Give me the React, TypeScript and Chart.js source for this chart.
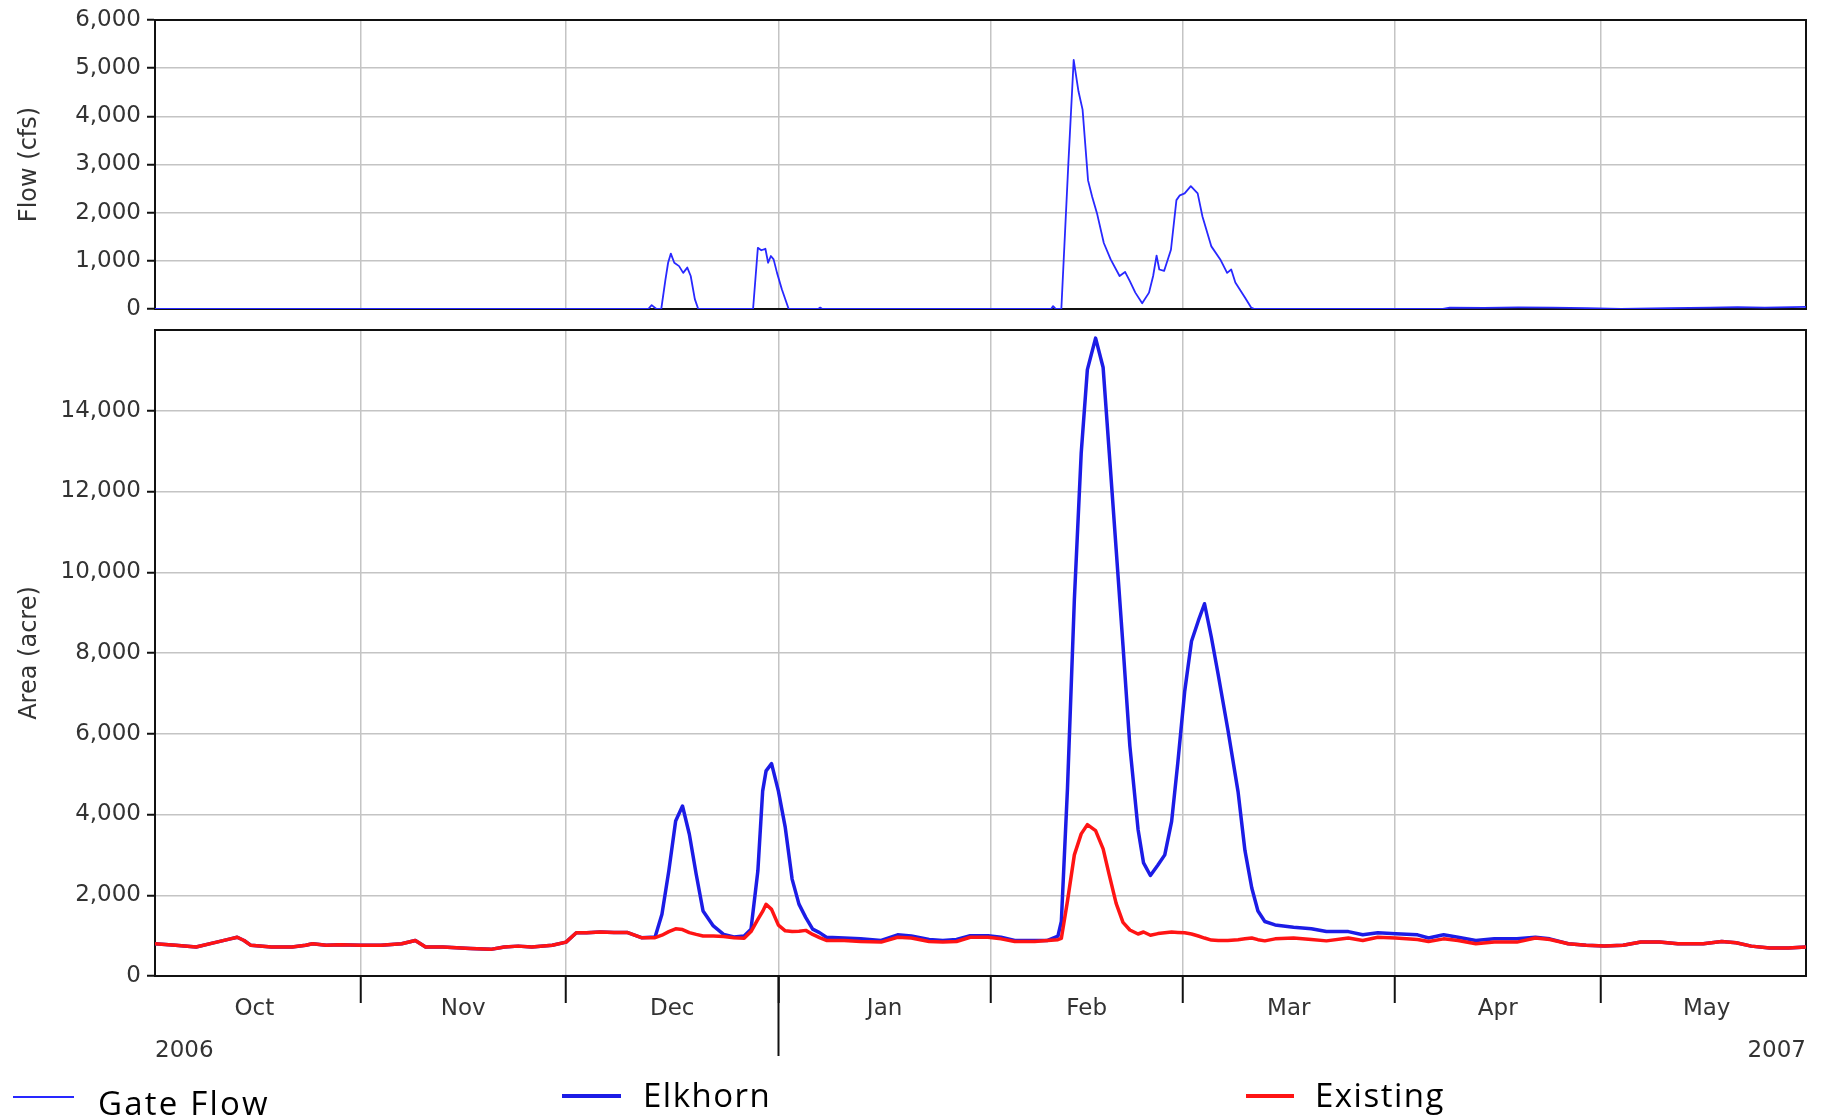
import React, { useEffect, useRef } from 'react';
import { Chart, registerables } from 'chart.js';

Chart.register(...registerables);

// ---------------- data ----------------
// x values are days counted from 1 Oct 2006 (day 0)
const seriesStart = Date.UTC(2006, 9, 1);
const axisFirstDay = 1; // 2 Oct 2006
const axisLastDay = 242; // 31 May 2007

const monthLabels = ['Oct', 'Nov', 'Dec', 'Jan', 'Feb', 'Mar', 'Apr', 'May'];
const monthYears = [2006, 2006, 2006, 2007, 2007, 2007, 2007, 2007, 2007];
const monthNumbers = [9, 10, 11, 0, 1, 2, 3, 4, 5];
const yearLabels = ['2006', '2007'];

const flowTicks = [0, 1000, 2000, 3000, 4000, 5000, 6000];
const areaTicks = [0, 2000, 4000, 6000, 8000, 10000, 12000, 14000];

const flowDays = [
  1, 73, 73.5, 74.2, 74.9, 75.5, 75.9, 76.3, 76.8, 77.5,
  78.1, 78.7, 79.2, 79.8, 80.3, 88.3, 89.0, 89.5, 90.1, 90.5,
  90.9, 91.3, 91.8, 92.5, 93.5, 97.8, 98.1, 98.4, 131.8, 132.1,
  132.5, 133.3, 134.3, 135.1, 135.8, 136.4, 137.2, 137.8, 138.5, 139.5,
  140.5, 141.8, 142.6, 143.3, 144.1, 145.1, 146.1, 146.7, 147.2, 147.6,
  148.3, 149.3, 150.1, 150.6, 151.3, 152.2, 153.2, 153.9, 155.2, 156.5,
  157.5, 158.1, 158.7, 160.1, 161, 161.5, 189, 190, 195, 200,
  205, 210, 215, 222, 228, 232, 236, 240, 242,
];
const gateFlow = [
  0, 0, 80, 0, 0, 600, 960, 1150, 960, 890,
  750, 860, 685, 205, 0, 0, 1270, 1220, 1250, 960,
  1100, 1030, 750, 410, 0, 0, 30, 0, 0, 60,
  0, 0, 2950, 5170, 4520, 4140, 2670, 2330, 1990, 1370,
  1030, 685, 770, 580, 340, 120, 340, 685, 1110, 820,
  790, 1230, 2260, 2360, 2400, 2550, 2400, 1920, 1300, 1030,
  750, 820, 550, 240, 30, 0, 0, 30, 25, 35,
  30, 20, 0, 20, 30, 40, 30, 40, 45,
];

const areaDays = [
  1, 4, 7, 10, 12, 13, 14, 15, 18, 21,
  23, 24, 26, 28, 31, 34, 37, 39, 40.5, 43,
  47, 50, 52, 54, 56, 59, 61, 62.5, 64, 66,
  68, 70, 72, 74, 75, 76, 77, 78, 79, 80,
  81, 82.5, 84, 85.5, 87, 88, 89, 89.7, 90.2, 91,
  92, 93, 94, 95, 96, 97, 98, 99, 101.6, 104,
  107, 109.4, 111.4, 114, 116, 118, 120, 122.6, 124.5, 126.5,
  129.4, 131.3, 132.8, 133.3, 134.2, 135.2, 136.2, 137.1, 138.3, 139.4,
  140.3, 141.3, 142.3, 143.3, 144.5, 145.3, 146.3, 147.4, 148.4, 149.4,
  150.3, 151.3, 152.3, 153.3, 154.2, 155.2, 156.2, 157.6, 159.1, 160.1,
  161.1, 162, 163, 164.5, 167.2, 169.8, 172, 175.2, 177.3, 179.5,
  182.1, 185.3, 186.9, 189.1, 191.2, 193.8, 196.5, 199.8, 202.5, 204.6,
  207.3, 209.9, 212.6, 215.3, 217.9, 220.6, 223.3, 227, 229.7, 231.8,
  234, 236.7, 239.4, 242,
];
const elkhornArea = [
  800, 760, 720, 840, 920, 960, 880, 760, 720, 720,
  760, 800, 760, 775, 760, 760, 800, 880, 720, 720,
  680, 660, 720, 740, 720, 760, 840, 1070, 1070, 1090,
  1075, 1075, 950, 965, 1530, 2600, 3840, 4210, 3510, 2520,
  1610, 1240, 1030, 965, 990, 1160, 2600, 4580, 5080, 5260,
  4580, 3680, 2400, 1780, 1445, 1160, 1075, 960, 940, 920,
  880, 1020, 990, 905, 880, 905, 1000, 1000, 960, 880,
  880, 880, 985, 1350, 4660, 9320, 12950, 15020, 15800, 15070,
  12950, 10570, 8180, 5700, 3630, 2800, 2490, 2750, 3000, 3830,
  5280, 7040, 8290, 8800, 9220, 8390, 7460, 6110, 4560, 3110,
  2180, 1610, 1350, 1265, 1210, 1170, 1100, 1100, 1020, 1070,
  1045, 1020, 940, 1020, 960, 880, 920, 920, 960, 920,
  800, 760, 740, 760, 840, 840, 800, 800, 855, 825,
  740, 695, 695, 720,
];
const existingArea = [
  800, 760, 720, 840, 920, 960, 880, 760, 720, 720,
  760, 800, 760, 775, 760, 760, 800, 880, 720, 720,
  680, 660, 720, 740, 720, 760, 840, 1070, 1070, 1090,
  1075, 1075, 950, 950, 1010, 1100, 1170, 1150, 1075, 1030,
  990, 990, 980, 950, 935, 1100, 1400, 1600, 1775, 1650,
  1260, 1120, 1100, 1110, 1130, 1030, 950, 880, 880, 855,
  840, 960, 940, 855, 840, 855, 960, 960, 920, 855,
  855, 880, 900, 930, 1860, 3000, 3520, 3750, 3600, 3150,
  2500, 1800, 1330, 1140, 1040, 1090, 1010, 1050, 1070, 1090,
  1080, 1070, 1040, 990, 940, 890, 880, 880, 900, 920,
  940, 900, 870, 920, 940, 905, 870, 940, 880, 960,
  940, 905, 855, 920, 880, 800, 840, 840, 940, 905,
  800, 760, 740, 760, 840, 840, 800, 800, 855, 825,
  740, 695, 695, 720,
];

const seriesLabels = ['Gate Flow', 'Elkhorn', 'Existing'];

// ---------------- styling ----------------
const FONT = '"DejaVu Sans", "Liberation Sans", sans-serif';
const TEXT = '#333333';
const GRID = '#c4c4c4';
const AXIS = '#111111';
const GATE_COLOR = '#2828ff';
const ELK_COLOR = '#1c1ce6';
const EXI_COLOR = '#ff1414';
const seriesColors = [GATE_COLOR, ELK_COLOR, EXI_COLOR];
const seriesWidths = [2, 4, 4];

const W = 1829;
const TOP_H = 330;
const BOT_TOP = 310;
const BOT_H = 1117 - BOT_TOP;

const dayOf = (y: number, m: number) => (Date.UTC(y, m, 1) - seriesStart) / 86400000;
const monthStartDays = monthYears.map((y, i) => dayOf(y, monthNumbers[i]));
const monthBoundaries = monthStartDays.slice(1, -1);
const monthMids = monthLabels.map((_, i) => (monthStartDays[i] + monthStartDays[i + 1]) / 2);
const yearBoundary = dayOf(2007, 0);

const fmt = (v: number) => Number(v).toLocaleString('en-US');
const pts = (xs: number[], ys: number[]) => xs.map((x, i) => ({ x, y: ys[i] }));

function frame(pos: string) {
  return {
    type: 'linear',
    position: pos,
    min: 0,
    max: 1,
    ticks: { display: false },
    grid: { display: false, drawTicks: false },
    border: { display: true, color: AXIS, width: 2 },
    afterFit: (s: any) => {
      if (pos === 'top' || pos === 'bottom') s.height = 0;
      else s.width = 0;
    },
  };
}

function monthGridAxis(tickLength: number) {
  return {
    type: 'linear',
    position: 'bottom',
    weight: 0,
    min: axisFirstDay,
    max: axisLastDay,
    afterBuildTicks: (s: any) => {
      s.ticks = monthBoundaries.map((v) => ({ value: v }));
    },
    ticks: { display: false },
    grid: {
      color: GRID,
      lineWidth: 1.5,
      drawTicks: tickLength > 0,
      tickLength,
      tickColor: AXIS,
      tickWidth: 2,
    },
    border: { color: AXIS, width: 2 },
    afterFit: (s: any) => {
      s.height = 0;
    },
  };
}

function valueAxis(ticksList: number[], max: number, title: string) {
  return {
    type: 'linear',
    position: 'left',
    min: 0,
    max,
    afterBuildTicks: (s: any) => {
      s.ticks = ticksList.map((v) => ({ value: v }));
    },
    ticks: {
      font: { family: FONT, size: 23 },
      color: TEXT,
      padding: 6,
      callback: (v: any) => fmt(v),
    },
    grid: { color: GRID, lineWidth: 1.5, tickColor: AXIS, tickLength: 8, tickWidth: 2 },
    border: { color: AXIS, width: 2 },
    title: {
      display: true,
      text: title,
      font: { family: FONT, size: 24 },
      color: TEXT,
      padding: { top: 15, bottom: 0 },
    },
    afterFit: (s: any) => {
      s.width = 155;
    },
  };
}

export default function App() {
  const topRef = useRef<HTMLCanvasElement | null>(null);
  const botRef = useRef<HTMLCanvasElement | null>(null);

  useEffect(() => {
    const common = {
      animation: false,
      responsive: false,
      maintainAspectRatio: false,
      plugins: { legend: { display: false }, tooltip: { enabled: false } },
      elements: { point: { radius: 0 }, line: { tension: 0, borderJoinStyle: 'round' } },
    };

    const top = new Chart(topRef.current as HTMLCanvasElement, {
      type: 'line',
      data: {
        datasets: [
          {
            label: seriesLabels[0],
            xAxisID: 'x',
            yAxisID: 'y',
            data: pts(flowDays, gateFlow),
            borderColor: GATE_COLOR,
            borderWidth: 1.8,
            pointRadius: 0,
            fill: false,
          },
        ],
      },
      options: {
        ...common,
        layout: { padding: { top: 20, right: 23, bottom: 21, left: 0 } },
        scales: {
          x: monthGridAxis(0),
          xTop: frame('top'),
          y: valueAxis(flowTicks, 6000, 'Flow (cfs)'),
          yRight: frame('right'),
        },
      },
    } as any);

    const bottom = new Chart(botRef.current as HTMLCanvasElement, {
      type: 'line',
      data: {
        datasets: [
          {
            label: seriesLabels[2],
            xAxisID: 'x',
            yAxisID: 'y',
            data: pts(areaDays, existingArea),
            borderColor: EXI_COLOR,
            borderWidth: 3.5,
            pointRadius: 0,
            fill: false,
          },
          {
            label: seriesLabels[1],
            xAxisID: 'x',
            yAxisID: 'y',
            data: pts(areaDays, elkhornArea),
            borderColor: ELK_COLOR,
            borderWidth: 3.5,
            pointRadius: 0,
            fill: false,
          },
        ],
      },
      options: {
        ...common,
        layout: { padding: { top: 20, right: 23, bottom: 46, left: 0 } },
        scales: {
          x: monthGridAxis(27),
          xJan: {
            type: 'linear',
            position: 'bottom',
            weight: 1,
            min: axisFirstDay,
            max: axisLastDay,
            afterBuildTicks: (s: any) => {
              s.ticks = [{ value: yearBoundary }];
            },
            ticks: { display: false },
            grid: {
              drawOnChartArea: false,
              tickLength: 80,
              tickColor: AXIS,
              tickWidth: 2,
            },
            border: { display: false },
            afterFit: (s: any) => {
              s.height = 0;
            },
          },
          xMonth: {
            type: 'linear',
            position: 'bottom',
            weight: 2,
            min: axisFirstDay,
            max: axisLastDay,
            afterBuildTicks: (s: any) => {
              s.ticks = monthMids.map((v) => ({ value: v }));
            },
            ticks: {
              font: { family: FONT, size: 23 },
              color: TEXT,
              padding: 19,
              autoSkip: false,
              maxRotation: 0,
              minRotation: 0,
              callback: (_v: any, i: number) => monthLabels[i],
            },
            grid: { display: false, drawTicks: false },
            border: { display: false },
            afterFit: (s: any) => {
              s.height = 55;
            },
          },
          xYear: {
            type: 'linear',
            position: 'bottom',
            weight: 3,
            min: axisFirstDay,
            max: axisLastDay,
            afterBuildTicks: (s: any) => {
              s.ticks = [{ value: axisFirstDay }, { value: axisLastDay }];
            },
            ticks: {
              font: { family: FONT, size: 23 },
              color: TEXT,
              padding: 6,
              align: 'inner',
              autoSkip: false,
              maxRotation: 0,
              minRotation: 0,
              callback: (_v: any, i: number) => yearLabels[i],
            },
            grid: { display: false, drawTicks: false },
            border: { display: false },
            afterFit: (s: any) => {
              s.height = 40;
            },
          },
          xTop: frame('top'),
          y: valueAxis(areaTicks, 16000, 'Area (acre)'),
          yRight: frame('right'),
        },
      },
    } as any);

    return () => {
      top.destroy();
      bottom.destroy();
    };
  }, []);

  const legendPlaces = [
    { lineLeft: 13, lineLen: 61, lineTop: 1097, textLeft: 98, textTop: 1086 },
    { lineLeft: 562, lineLen: 59, lineTop: 1096, textLeft: 643, textTop: 1078 },
    { lineLeft: 1246, lineLen: 48, lineTop: 1096, textLeft: 1315, textTop: 1078 },
  ];

  return (
    <div
      style={{
        position: 'fixed',
        left: 0,
        top: 0,
        width: W,
        height: 1117,
        background: '#ffffff',
        overflow: 'hidden',
      }}
    >
      <canvas
        ref={topRef}
        width={W}
        height={TOP_H}
        style={{ position: 'absolute', left: 0, top: 0, width: W, height: TOP_H }}
      />
      <canvas
        ref={botRef}
        width={W}
        height={BOT_H}
        style={{ position: 'absolute', left: 0, top: BOT_TOP, width: W, height: BOT_H }}
      />
      {seriesLabels.map((label, i) => {
        const p = legendPlaces[i];
        return (
          <React.Fragment key={label}>
            <div
              style={{
                position: 'absolute',
                left: p.lineLeft,
                top: p.lineTop - seriesWidths[i] / 2,
                width: p.lineLen,
                height: seriesWidths[i],
                background: seriesColors[i],
              }}
            />
            <div
              style={{
                position: 'absolute',
                left: p.textLeft,
                top: p.textTop,
                fontFamily: '"Open Sans", sans-serif',
                fontSize: 33,
                lineHeight: '33px',
                letterSpacing: i === 0 ? 2.2 : 1.5,
                color: '#000',
                whiteSpace: 'nowrap',
              }}
            >
              {label}
            </div>
          </React.Fragment>
        );
      })}
    </div>
  );
}
